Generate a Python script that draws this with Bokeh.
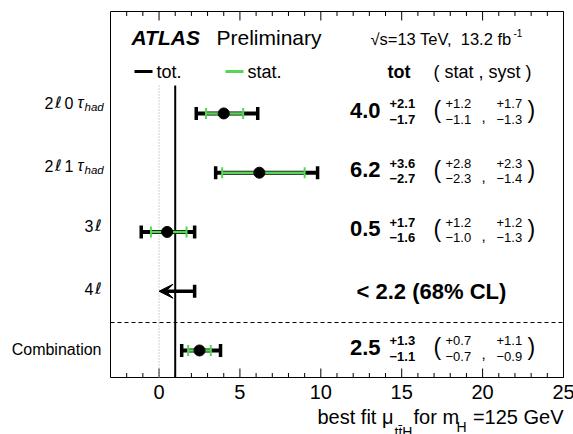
import numpy as np
from bokeh.plotting import figure
from bokeh.models import Range1d, Label, Arrow, VeeHead, ColumnDataSource
from bokeh.embed import file_html
from bokeh.resources import INLINE
from bokeh.core.properties import value

# ---------------- data ----------------
channels = ["2ℓ0τhad", "2ℓ1τhad", "3ℓ", "4ℓ", "Combination"]
channel_rows = [4.5, 3.5, 2.5, 1.5, 0.5]

meas_rows = [4.5, 3.5, 2.5, 0.5]          # 2ℓ0τ, 2ℓ1τ, 3ℓ, Combination
mu = [4.0, 6.2, 0.5, 2.5]
tot_up = [2.1, 3.6, 1.7, 1.3]
tot_dn = [1.7, 2.7, 1.6, 1.1]
stat_up = [1.2, 2.8, 1.2, 0.7]
stat_dn = [1.1, 2.3, 1.0, 0.7]
syst_up = [1.7, 2.3, 1.2, 1.1]
syst_dn = [1.3, 1.4, 1.3, 0.9]

limit_row = 1.5                            # 4ℓ
limit_4l = 2.2
limit_text = "< 2.2 (68% CL)"

SM_MU = 1.0
ZERO_MU = 0.0

major_ticks = [0, 5, 10, 15, 20, 25]
tick_labels = ["0", "5", "10", "15", "20", "25"]
minor_ticks = [-2, -1, 1, 2, 3, 4, 6, 7, 8, 9, 11, 12, 13, 14, 16, 17, 18, 19,
               21, 22, 23, 24]

# ---------------- layout helpers ----------------
FONT = "Liberation Sans"
GREEN = "#55d655"
X0, X1 = -3.0, 25.0          # axis range (plot box)
Y0, Y1 = 0.044, 6.22
FX0, FX1, FY0, FY1 = 110, 563, 11, 377   # plot box in canvas pixels
PPX = (FX1 - FX0) / (X1 - X0)
PPU = (FY1 - FY0) / (Y1 - Y0)


def px2x(px):
    return X0 + (px - FX0) / PPX


def py2y(py):
    return Y0 + (FY1 - py) / PPU


def up(px):
    return px / PPU


W, H = 573, 434
p = figure(width=W, height=H, x_range=Range1d(px2x(0), px2x(W)),
           y_range=Range1d(py2y(H), py2y(0)),
           output_backend="svg", toolbar_location=None, x_axis_location=None,
           y_axis_location=None, min_border=0)
p.xgrid.visible = False
p.ygrid.visible = False
p.outline_line_color = None
p.background_fill_color = "white"
p.border_fill_color = "white"

# plot box
p.quad(left=[X0], right=[X1], bottom=[Y0], top=[Y1], fill_color=None,
       line_color="black", line_width=1)

# ticks (inside, bottom and top)
p.segment(x0=major_ticks, y0=[Y0] * len(major_ticks), x1=major_ticks,
          y1=[Y0 + up(9)] * len(major_ticks), line_color="black", line_width=1)
p.segment(x0=major_ticks, y0=[Y1] * len(major_ticks), x1=major_ticks,
          y1=[Y1 - up(9)] * len(major_ticks), line_color="black", line_width=1)
p.segment(x0=minor_ticks, y0=[Y0] * len(minor_ticks), x1=minor_ticks,
          y1=[Y0 + up(4.5)] * len(minor_ticks), line_color="black", line_width=1)
p.segment(x0=minor_ticks, y0=[Y1] * len(minor_ticks), x1=minor_ticks,
          y1=[Y1 - up(4.5)] * len(minor_ticks), line_color="black", line_width=1)
p.text(x=major_ticks, y=[py2y(391)] * len(major_ticks), text=tick_labels,
       text_font=value(FONT), text_font_size="20px", text_align="center",
       text_baseline="middle", text_color="black")

# reference lines
p.segment(x0=[ZERO_MU], y0=[Y0], x1=[ZERO_MU], y1=[py2y(85)], line_color="#b0b0b0",
          line_width=1.2, line_dash="1 2")
p.segment(x0=[SM_MU], y0=[Y0], x1=[SM_MU], y1=[py2y(85)], line_color="black", line_width=2)
p.segment(x0=[X0], y0=[py2y(322)], x1=[X1], y1=[py2y(322)], line_color="black",
          line_width=1, line_dash="4 3")

# error bars
tot_lo = [m - d for m, d in zip(mu, tot_dn)]
tot_hi = [m + u for m, u in zip(mu, tot_up)]
st_lo = [m - d for m, d in zip(mu, stat_dn)]
st_hi = [m + u for m, u in zip(mu, stat_up)]
src = ColumnDataSource(dict(y=meas_rows, mu=mu, tlo=tot_lo, thi=tot_hi, slo=st_lo, shi=st_hi))

p.segment(x0="tlo", y0="y", x1="thi", y1="y", source=src, line_color="black", line_width=4)
for col in ("tlo", "thi"):
    p.scatter(x=col, y="y", source=src, marker="dash", angle=np.pi / 2, size=13,
              line_width=3.5, line_color="black")
p.segment(x0="slo", y0="y", x1="shi", y1="y", source=src, line_color=GREEN, line_width=2.5)
for col in ("slo", "shi"):
    p.scatter(x=col, y="y", source=src, marker="dash", angle=np.pi / 2, size=11,
              line_width=2, line_color=GREEN)
p.scatter(x="mu", y="y", source=src, marker="circle", size=11, fill_color="black",
          line_color="black")

# 4l upper limit
p.add_layout(Arrow(end=VeeHead(size=14, fill_color="black", line_color="black", line_width=1),
                   x_start=limit_4l, y_start=limit_row, x_end=ZERO_MU, y_end=limit_row,
                   line_color="black", line_width=3.5))
p.scatter(x=[limit_4l], y=[limit_row], marker="dash", angle=np.pi / 2, size=13,
          line_width=3.5, line_color="black")


def txt(x, y, t, size, bold=False, align="left", baseline="middle", italic=False,
        color="black", font=FONT):
    style = "bold" if bold else "normal"
    if italic:
        style = "bold italic" if bold else "italic"
    p.add_layout(Label(x=x, y=y, text=t, text_font=font, text_font_size=size,
                       text_font_style=style, text_align=align, text_baseline=baseline,
                       text_color=color))


# ---------------- right-hand numbers ----------------
tsrc = ColumnDataSource(dict(
    y=meas_rows,
    yv=[r + up(3) for r in meas_rows],
    yt=[r + up(9.5) for r in meas_rows],
    yb=[r - up(6) for r in meas_rows],
    yc=[r - up(4) for r in meas_rows],
    val=[f"{m:.1f}" for m in mu],
    tu=[f"+{u:.1f}" for u in tot_up],
    td=[f"\u2212{d:.1f}" for d in tot_dn],
    su=[f"+{u:.1f}" for u in stat_up],
    sd=[f"\u2212{d:.1f}" for d in stat_dn],
    yu=[f"+{u:.1f}" for u in syst_up],
    yd=[f"\u2212{d:.1f}" for d in syst_dn],
))
common = dict(source=tsrc, text_font=value(FONT), text_baseline="middle", text_color="black")
p.text(x=px2x(380), y="yv", text="val", text_align="right", text_font_style="bold",
       text_font_size="22px", **common)
p.text(x=px2x(389), y="yt", text="tu", text_align="left", text_font_style="bold",
       text_font_size="13px", **common)
p.text(x=px2x(389), y="yb", text="td", text_align="left", text_font_style="bold",
       text_font_size="13px", **common)
p.text(x=px2x(445), y="yt", text="su", text_align="left", text_font_size="13px", **common)
p.text(x=px2x(445), y="yb", text="sd", text_align="left", text_font_size="13px", **common)
p.text(x=px2x(496), y="yt", text="yu", text_align="left", text_font_size="13px", **common)
p.text(x=px2x(496), y="yb", text="yd", text_align="left", text_font_size="13px", **common)
p.text(x=px2x(433), y="yv", text=value("("), text_align="left", text_font_size="23px", **common)
p.text(x=px2x(527), y="yv", text=value(")"), text_align="left", text_font_size="23px", **common)
p.text(x=px2x(481), y="yc", text=value(","), text_align="left", text_font_size="15px", **common)

txt(px2x(356), limit_row, limit_text, "22px", bold=True)

# header / legend
txt(px2x(131), py2y(37), "ATLAS", "21px", bold=True, italic=True)
txt(px2x(216), py2y(37), "Preliminary", "21px")
txt(px2x(370), py2y(38), "\u221as=13 TeV,\u00a0\u00a013.2 fb", "16.5px")
txt(px2x(513), py2y(32), "-1", "10px")

p.segment(x0=[px2x(134)], y0=[py2y(71)], x1=[px2x(152)], y1=[py2y(71)], line_color="black",
          line_width=3)
txt(px2x(156), py2y(71), "tot.", "18px")
p.segment(x0=[px2x(225)], y0=[py2y(71)], x1=[px2x(243)], y1=[py2y(71)], line_color=GREEN,
          line_width=3)
txt(px2x(247), py2y(71), "stat.", "18px")
txt(px2x(387), py2y(71), "tot", "18px", bold=True)
txt(px2x(433), py2y(71), "(\u00a0stat\u00a0,\u00a0syst\u00a0)", "18px")

# ---------------- row labels (left margin) ----------------
label_py = [102, 165, 225, 288, 349]
for name, py in zip(channels, label_py):
    y = py2y(py)
    if name.endswith("had"):
        # e.g. "2ℓ0τhad": digit, script ell, digit, tau, subscript "had"
        txt(px2x(84), y - up(4), "had", "11.5px", italic=True, align="left")
        txt(px2x(83), y, name[3], "16px", italic=True, align="right")
        txt(px2x(73), y, name[2], "16px", align="right")
        txt(px2x(61), y, name[1], "16px", italic=True, align="right", font="DejaVu Sans")
        txt(px2x(53), y, name[0], "16px", align="right")
    elif name.endswith("ℓ"):
        txt(px2x(101), y, name[-1], "16px", italic=True, align="right", font="DejaVu Sans")
        txt(px2x(93), y, name[:-1], "16px", align="right")
    else:
        txt(px2x(101), y, name, "16px", align="right")

# ---------------- x-axis title ----------------
txt(px2x(317), py2y(416), "best fit \u03bc", "20px")
txt(px2x(394), py2y(431), "tt\u0304H", "14px")
txt(px2x(413), py2y(416), "for m", "20px")
txt(px2x(456), py2y(426), "H", "14px")
txt(px2x(563), py2y(416), "=125 GeV", "20px", align="right")

open("out.html", "w").write(file_html(p, INLINE))
